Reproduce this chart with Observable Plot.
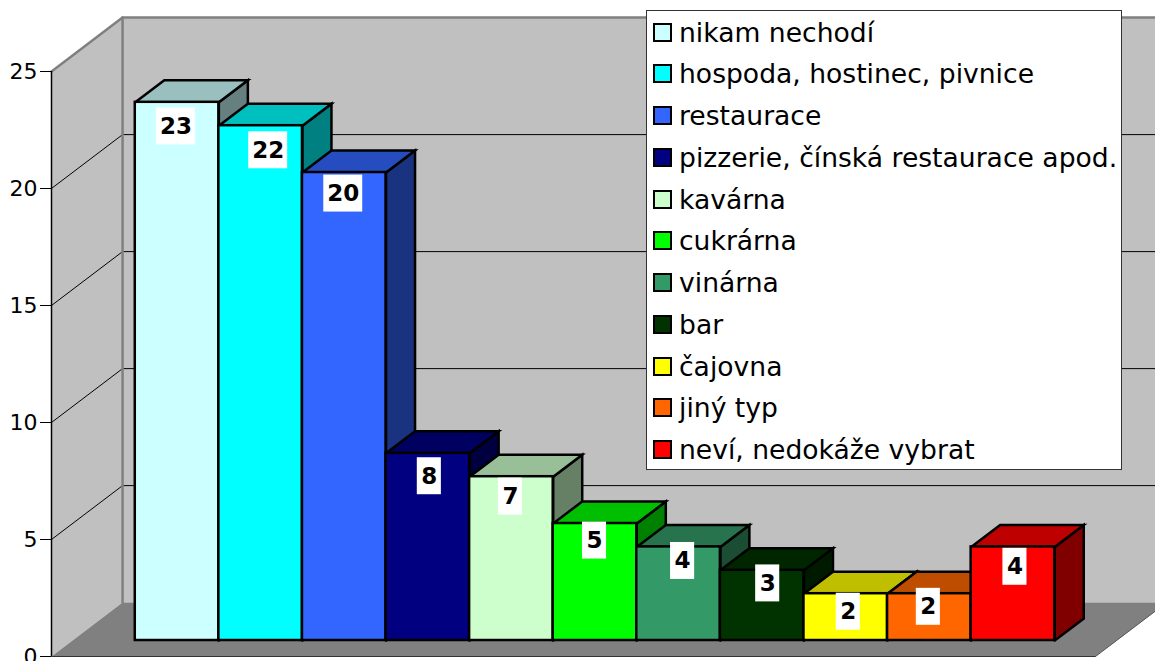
<!DOCTYPE html>
<html lang="cs">
<head>
<meta charset="utf-8">
<title>Typ podniku</title>
<script src="https://cdn.jsdelivr.net/npm/d3@7"></script>
<script src="https://cdn.jsdelivr.net/npm/@observablehq/plot@0.6"></script>
<style>
  html, body { margin: 0; padding: 0; background: #fff; }
  #wrap { position: relative; width: 1155px; height: 661px; overflow: hidden; font-family: "DejaVu Sans", sans-serif; }
  #wrap svg { display: block; overflow: hidden; }
  #legend { position: absolute; left: 646px; top: 10px; width: 474px; height: 458px; background: #fff; border: 1px solid #333; }
  .row { position: absolute; left: 6px; height: 42px; display: flex; align-items: center; white-space: nowrap; font-size: 26.6px; color: #000; }
  .sw { width: 15px; height: 15px; border: 2px solid #000; margin-right: 7px; flex: none; }
</style>
</head>
<body>
<div id="wrap"></div>
<script>
const categories = ["nikam nechodí", "hospoda, hostinec, pivnice", "restaurace", "pizzerie, čínská restaurace apod.", "kavárna", "cukrárna", "vinárna", "bar", "čajovna", "jiný typ", "neví, nedokáže vybrat"];
const values = [23, 22, 20, 8, 7, 5, 4, 3, 2, 2, 4];
const colors = ["#CCFFFF", "#00FFFF", "#3366FF", "#000080", "#CCFFCC", "#00FF00", "#339966", "#003300", "#FFFF00", "#FF6600", "#FF0000"];
const yTicks = [0, 5, 10, 15, 20, 25];
// where each white value label sits relative to its bar (bar widths, value units)
const labelNudge = [-0.014, 0.09, -0.012, 0.018, -0.012, -0.006, 0.048, 0.066, 0.03, -0.012, 0.024];
const labelDrop = [1.03, 1.05, 0.9, 0.98, 0.85, 0.73, 0.6, 0.56, 0.77, 0.56, 0.85];

// oblique projection: one bar depth moves a point this far in x (bar widths) and y (value units)
const DX = 0.347, DY = 0.94;
const WALL_DEPTH = 2.45, BAR_DEPTH_START = 0.727, BAR_START = 0.75;
const floorWidth = 12.49;
const proj = (x, v, d) => ({x: x + d * DX, y: v + d * DY});
const poly = pts => [...pts, pts[0]].map(([x, v, d]) => proj(x, v, d));
const lineStyle = {x: "x", y: "y", strokeLinejoin: "miter", strokeMiterlimit: 10, curve: "linear"};

const wallStroke = "#808080";
const marks = [
  // back wall, left wall, floor
  Plot.line(poly([[0, 0, WALL_DEPTH], [floorWidth, 0, WALL_DEPTH], [floorWidth, 25, WALL_DEPTH], [0, 25, WALL_DEPTH]]), {...lineStyle, fill: "#C0C0C0", stroke: "none"}),
  Plot.line(poly([[0, 0, 0], [0, 0, WALL_DEPTH], [0, 25, WALL_DEPTH], [0, 25, 0]]), {...lineStyle, fill: "#C0C0C0", stroke: "none"}),
  Plot.line(poly([[0, 0, 0], [floorWidth, 0, 0], [floorWidth, 0, WALL_DEPTH], [0, 0, WALL_DEPTH]]), {...lineStyle, fill: "#808080", stroke: "none"}),
  // gridlines over left wall and back wall
  ...yTicks.slice(1, -1).map(t => Plot.line([[0, t, 0], [0, t, WALL_DEPTH], [floorWidth, t, WALL_DEPTH]].map(p => proj(...p)), {...lineStyle, stroke: "#000", strokeWidth: 1})),
  // gray wall edges
  Plot.line([[0, 25, 0], [0, 25, WALL_DEPTH], [floorWidth, 25, WALL_DEPTH]].map(p => proj(...p)), {...lineStyle, stroke: wallStroke, strokeWidth: 2.5}),
  Plot.line([[0, 25, WALL_DEPTH], [0, 0, WALL_DEPTH]].map(p => proj(...p)), {...lineStyle, stroke: wallStroke, strokeWidth: 2.5}),
  Plot.line([[0, 0, 0], [floorWidth, 0, 0]].map(p => proj(...p)), {...lineStyle, stroke: "#333", strokeWidth: 1}),
  Plot.line([[floorWidth, 0, 0], [floorWidth, 0, WALL_DEPTH]].map(p => proj(...p)), {...lineStyle, stroke: "#555", strokeWidth: 1}),
  Plot.ruleX([0], {y1: 0, y2: 25, stroke: "#000", strokeWidth: 1.5}),
  Plot.axisY({ticks: yTicks, anchor: "left", tickSize: 11, tickPadding: 3, fontSize: 22, label: null, stroke: "#000"}),
];

// bars, painted left to right so later bars cover earlier side faces
values.forEach((v, i) => {
  const x0 = BAR_START + i, x1 = x0 + 1, d0 = BAR_DEPTH_START, d1 = d0 + 1;
  const base = d3.color(colors[i]);
  const top = base.darker(Math.log(0.75) / Math.log(0.7));
  const side = base.darker(Math.log(0.5) / Math.log(0.7));
  const a = proj(x0, 0, d0), b = proj(x1, v, d0);
  const edge = {...lineStyle, stroke: "#000", strokeWidth: 2.5};
  marks.push(
    Plot.line(poly([[x1, 0, d0], [x1, 0, d1], [x1, v, d1], [x1, v, d0]]), {...edge, fill: side.formatHex()}),
    Plot.line(poly([[x0, v, d0], [x1, v, d0], [x1, v, d1], [x0, v, d1]]), {...edge, fill: top.formatHex()}),
    Plot.rect([{x1: a.x, x2: b.x, y1: a.y, y2: b.y}], {x1: "x1", x2: "x2", y1: "y1", y2: "y2", fill: colors[i], stroke: "#000", strokeWidth: 2.5})
  );
});

// value labels on white boxes
const labels = values.map((v, i) => {
  const p = proj(BAR_START + i + 0.5 + labelNudge[i], v - labelDrop[i], BAR_DEPTH_START);
  return {x: p.x, y: p.y, v, hw: String(v).length > 1 ? 0.233 : 0.144};
});
marks.push(
  Plot.rect(labels, {x1: d => d.x - d.hw, x2: d => d.x + d.hw, y1: d => d.y - 0.79, y2: d => d.y + 0.79, fill: "#fff"}),
  Plot.text(labels, {x: "x", y: "y", text: d => String(d.v), fill: "#000", fontSize: 23, fontWeight: "bold"})
);

const chart = Plot.plot({
  width: 1155, height: 661,
  marginLeft: 51, marginRight: 60, marginTop: 71, marginBottom: 5,
  style: {fontFamily: "DejaVu Sans", background: "#fff", color: "#000", overflow: "hidden"},
  x: {domain: [0, floorWidth], axis: null},
  y: {domain: [0, 25], axis: null},
  marks
});
const wrap = document.getElementById("wrap");
wrap.appendChild(chart);

const legend = document.createElement("div");
legend.id = "legend";
categories.forEach((c, i) => {
  const row = document.createElement("div");
  row.className = "row";
  row.style.top = (i * 41.75) + "px";
  const sw = document.createElement("span");
  sw.className = "sw";
  sw.style.background = colors[i];
  const t = document.createElement("span");
  t.textContent = c;
  row.append(sw, t);
  legend.appendChild(row);
});
wrap.appendChild(legend);
</script>
</body>
</html>
